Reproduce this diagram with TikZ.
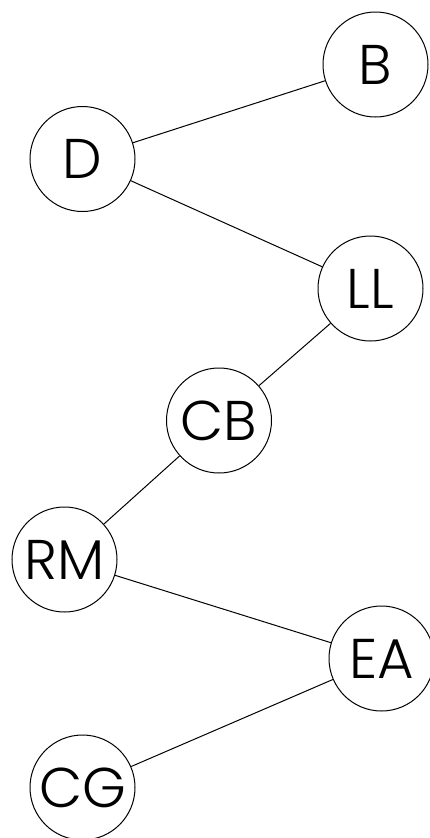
\documentclass[tikz,border=0pt]{standalone}
\usepackage{fontspec}
\setmainfont{Poppins}[UprightFont={* Light}]
\begin{document}
\begin{tikzpicture}[x=1pt,y=-1pt,
  vertex/.style={circle,draw=black,line width=1pt,minimum size=105pt,inner sep=0pt,font=\fontsize{56}{56}\selectfont},
  edge/.style={line width=1pt}]
\useasboundingbox (0,0) rectangle (429,838);
\node[vertex] (B)  at (375.5,64.5) {B};
\node[vertex] (D)  at (82.5,159)   {D};
\node[vertex] (LL) at (370.5,288.5) {LL};
\node[vertex] (CB) at (219,420.5)  {CB};
\node[vertex] (RM) at (64.5,559.5) {RM};
\node[vertex] (EA) at (381.5,658.5) {EA};
\node[vertex] (CG) at (82.5,787.5) {CG};
\draw[edge] (D) -- (B);
\draw[edge] (D) -- (LL);
\draw[edge] (LL) -- (CB);
\draw[edge] (CB) -- (RM);
\draw[edge] (RM) -- (EA);
\draw[edge] (EA) -- (CG);
\end{tikzpicture}
\end{document}
